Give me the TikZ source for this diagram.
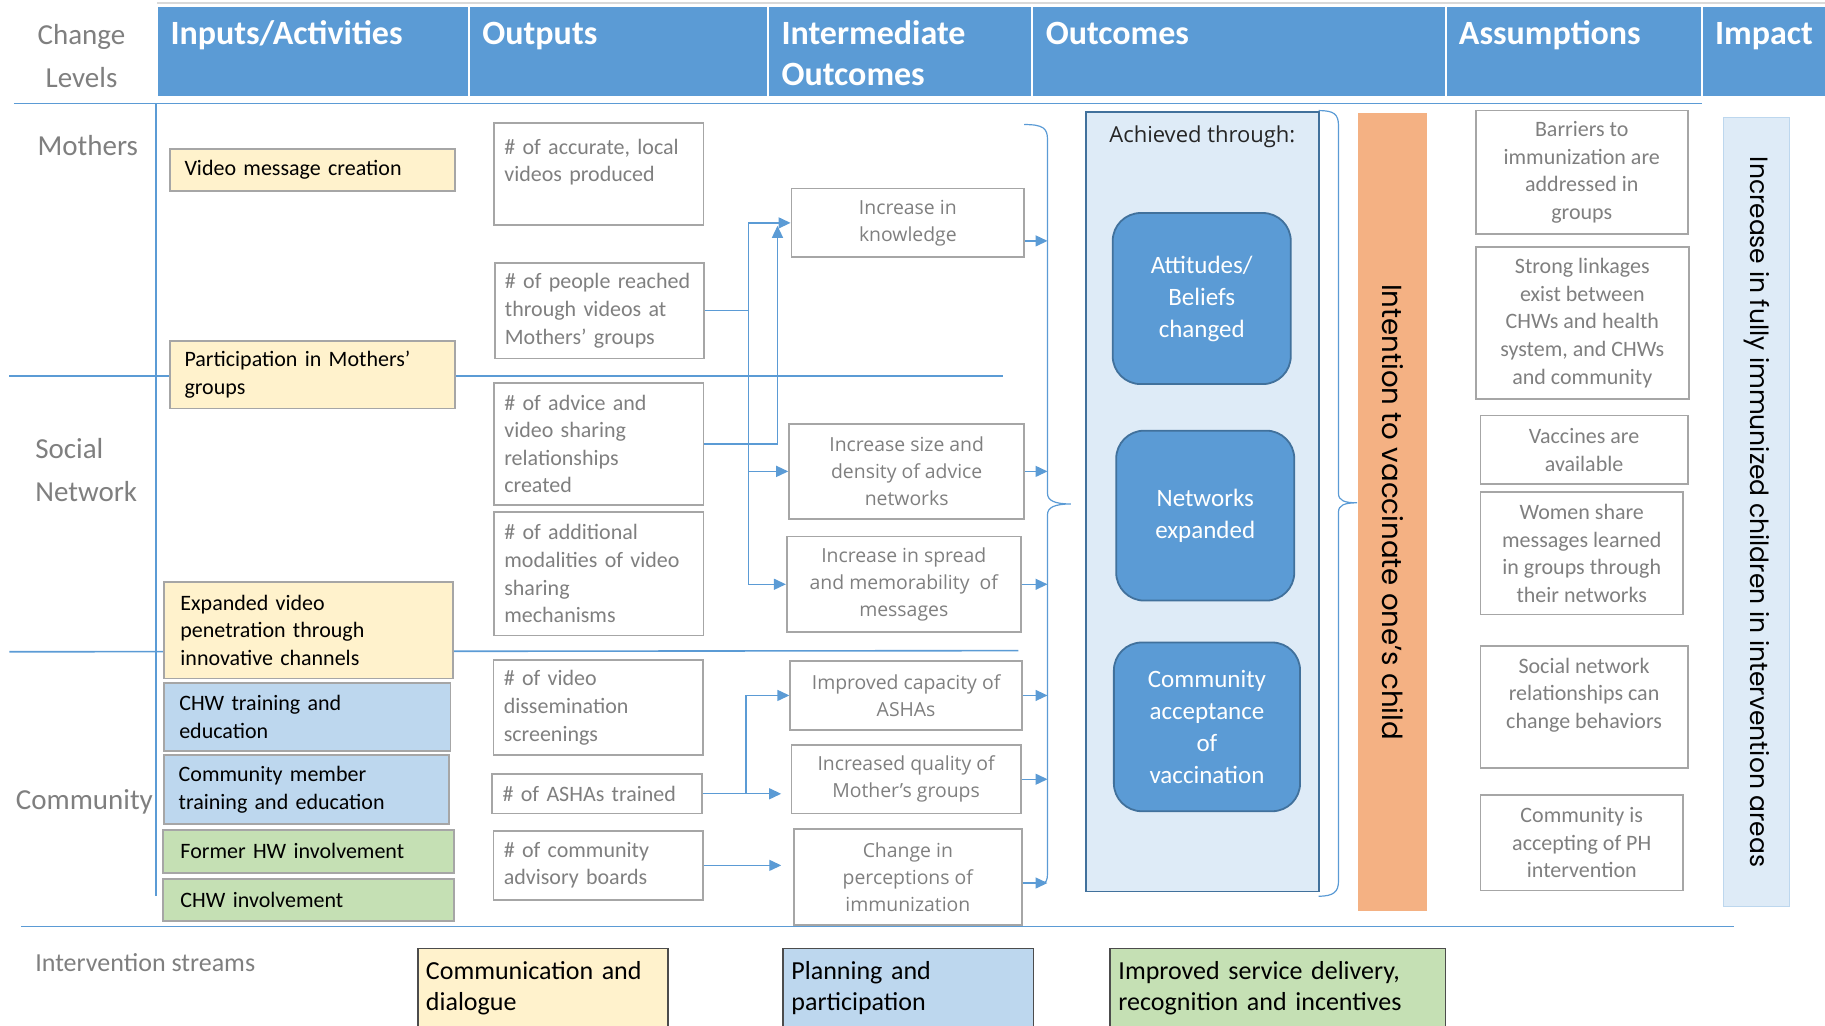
\documentclass[tikz,border=0pt]{standalone}
\usepackage{fontspec}
\setmainfont{Carlito}
\newfontfamily\segoe{Open Sans}
\newfontfamily\gothic{Poppins}
\usepackage{tikz}
\usetikzlibrary{arrows.meta,positioning}

\definecolor{hdrblue}{HTML}{5B9BD5}
\definecolor{lineblue}{HTML}{5B9BD5}
\definecolor{inyellow}{HTML}{FFF2CC}
\definecolor{inblue}{HTML}{BDD7EE}
\definecolor{ingreen}{HTML}{C5E0B4}
\definecolor{barorange}{HTML}{F4B183}
\definecolor{paleblue}{HTML}{DEEBF7}
\definecolor{boxgray}{HTML}{A6A6A6}
\definecolor{txtgray}{HTML}{7F7F7F}
\definecolor{darkblue}{HTML}{41719C}

\newcommand{\pxl}{0.582pt}
\newcommand{\hdrfont}{\fontsize{17}{20.5}\selectfont\bfseries}
\newcommand{\bodyfont}{\fontsize{11}{13.8}\selectfont}
\newcommand{\midfont}{\segoe\fontsize{9.7}{13.5}\selectfont}
\newcommand{\roundfont}{\fontsize{12.5}{16}\selectfont}
\newcommand{\lvlfont}{\fontsize{14.5}{21.5}\selectfont}
\newcommand{\streamfont}{\fontsize{13}{15.7}\selectfont}

\tikzset{
  sz/.style 2 args={minimum width=#1*\pxl, minimum height=#2*\pxl},
  hdr/.style={fill=hdrblue, draw=white, line width=1pt, minimum height=78*\pxl, inner sep=0pt},
  hdrtxt/.style={anchor=north west, inner xsep=7pt, inner ysep=7.5pt, text height=12pt, align=left, text=white, font=\hdrfont},
  lvl/.style={text=txtgray, font=\lvlfont, align=center},
  inbox/.style={draw=boxgray, line width=0.9pt, text width=128pt, inner xsep=7pt, align=left, font=\bodyfont},
  outbox/.style={draw=boxgray, line width=0.9pt, text width=94.5pt, inner xsep=5pt, align=left, text=txtgray, font=\bodyfont},
  midbox/.style={draw=boxgray, line width=0.9pt, align=center, text=txtgray, font=\midfont},
  asmbox/.style={draw=boxgray, line width=0.9pt, align=center, text=txtgray, font=\bodyfont},
  rbox/.style={fill=hdrblue, draw=darkblue, line width=0.9pt, rounded corners=14pt, align=center, text=white, font=\roundfont},
  vbar/.style={rotate=-90, inner sep=0pt},
  stream/.style={draw=black!70, line width=0.9pt, align=left, inner xsep=4pt, font=\streamfont},
  sep/.style={draw=lineblue, line width=0.8pt},
  conn/.style={->, lineblue, line width=0.7pt},
}

\begin{document}
\begin{tikzpicture}[x=\pxl, y=-\pxl, >={Triangle[length=6pt,width=5.5pt]}]
  \useasboundingbox (0,0) rectangle (1568,881);

  % header row
  \draw[gray!30, line width=1pt] (135,2.5) -- (1568,2.5);
  \node[hdr, minimum width=268*\pxl] (h1) at (269,44) {};
  \node[hdr, minimum width=257*\pxl] (h2) at (531.5,44) {};
  \node[hdr, minimum width=227*\pxl] (h3) at (773.5,44) {};
  \node[hdr, minimum width=355*\pxl] (h4) at (1064.5,44) {};
  \node[hdr, minimum width=220*\pxl] (h5) at (1352,44) {};
  \node[hdr, minimum width=113*\pxl] (h6) at (1518.5,44) {};
  \node[hdrtxt] (t1) at (h1.north west) {Inputs/Activities};
  \node[hdrtxt] (t2) at (h2.north west) {Outputs};
  \node[hdrtxt, text height={}] (t3) at (h3.north west) {Intermediate\\Outcomes};
  \node[hdrtxt] (t4) at (h4.north west) {Outcomes};
  \node[hdrtxt] (t5) at (h5.north west) {Assumptions};
  \node[hdrtxt] (t6) at (h6.north west) {Impact};

  % level lines
  \draw[sep] (12,89) -- (1462,89);
  \draw[sep] (134,89) -- (134,770);
  \draw[sep] (8,323) -- (862,323);
  \draw[sep] (8,560) -- (875,559);
  \draw[sep] (18,796) -- (1490,796);

  \node[lvl] (lv0) at (70,48.5) {Change\\Levels};
  \node[lvl] (lv1) at (75.5,125) {Mothers};
  \node[lvl, align=left, anchor=west, inner xsep=0pt] (lv2) at (30,403.5) {Social\\Network};
  \node[lvl] (lv3) at (72.5,689) {Community};
  \node[lvl, font=\fontsize{13}{16}\selectfont, anchor=west, inner xsep=0pt] (lv4) at (30,827) {Intervention streams};

  % inputs
  \node[inbox, fill=inyellow, sz={245}{36}] (i1) at (268.5,146) {Video message creation};
  \node[inbox, fill=inyellow, sz={245}{58}] (i2) at (268.5,322) {Participation in Mothers’\\groups};
  \node[inbox, fill=inyellow, sz={248}{83}] (i3) at (265,541.5) {Expanded video\\penetration through\\innovative channels};
  \node[inbox, fill=inblue, sz={246}{58}] (i4) at (264,616) {CHW training and\\education};
  \node[inbox, fill=inblue, sz={245}{59}] (i5) at (263.5,678.5) {Community member\\training and education};
  \node[inbox, fill=ingreen, sz={250}{37}] (i6) at (265,731.5) {Former HW involvement};
  \node[inbox, fill=ingreen, sz={250}{36}] (i7) at (265,773) {CHW involvement};

  % outputs
  \node[outbox, sz={180}{87}] (o1) at (514.5,149.5) {\# of accurate, local\\videos produced\\~};
  \node[outbox, sz={180}{82}] (o2) at (515,267) {\# of people reached\\through videos at\\Mothers’ groups};
  \node[outbox, sz={180}{105}] (o3) at (514.5,381.5) {\# of advice and\\video sharing\\relationships\\created};
  \node[outbox, sz={180}{106}] (o4) at (514.5,493) {\# of additional\\modalities of video\\sharing\\mechanisms};
  \node[outbox, sz={180}{82}] (o5) at (514,608) {\# of video\\dissemination\\screenings};
  \node[outbox, sz={180}{34}] (o6) at (513,682) {\# of ASHAs trained};
  \node[outbox, sz={180}{59}] (o7) at (514,743.5) {\# of community\\advisory boards};

  % intermediate outcomes
  \node[midbox, sz={200}{59}] (k1) at (780,191.5) {Increase in\\knowledge};
  \node[midbox, sz={202}{82}] (k2) at (779,405) {Increase size and\\density of advice\\networks};
  \node[midbox, sz={201}{82}] (k3) at (776.5,502) {Increase in spread\\and memorability\ \ of\\messages};
  \node[midbox, sz={199}{59}] (k4) at (778.5,597.5) {Improved capacity of\\ASHAs};
  \node[midbox, sz={197}{59}] (k5) at (778.5,669.5) {Increased quality of\\Mother’s groups};
  \node[midbox, sz={196}{83}] (k6) at (780,753.5) {Change in\\perceptions of\\immunization};

  % outcomes
  \node[fill=paleblue, draw=darkblue, line width=0.9pt, sz={200}{670}] (ach) at (1033,431) {};
  \node[font=\segoe\fontsize{11}{13}\selectfont, text=black!85] (acht) at (1033,117.5) {Achieved through:};
  \node[rbox, sz={153}{147}] (r1) at (1032.5,256.5) {Attitudes/\\Beliefs\\changed};
  \node[rbox, sz={153}{146}] (r2) at (1035.5,443) {Networks\\expanded};
  \node[rbox, sz={160}{145}] (r3) at (1037,624.5) {Community\\acceptance\\of\\vaccination};

  \node[vbar, fill=barorange, font=\gothic\fontsize{13.8}{16}\selectfont, sz={686}{59}] (int) at (1196.5,440) {Intention to vaccinate one’s child};

  % assumptions
  \node[asmbox, sz={182}{106}] (a1) at (1359,148) {Barriers to\\immunization are\\addressed in\\groups};
  \node[asmbox, sz={183}{131}] (a2) at (1359.5,277.5) {Strong linkages\\exist between\\CHWs and health\\system, and CHWs\\and community};
  \node[asmbox, sz={178}{59}] (a3) at (1361,386.5) {Vaccines are\\available};
  \node[asmbox, sz={174}{105}] (a4) at (1359,475.5) {Women share\\messages learned\\in groups through\\their networks};
  \node[asmbox, sz={178}{105}] (a5) at (1361,607.5) {Social network\\relationships can\\change behaviors\\~};
  \node[asmbox, sz={174}{82}] (a6) at (1359,724) {Community is\\accepting of PH\\intervention};

  \node[vbar, fill=paleblue, draw=inblue, font=\gothic\fontsize{12.5}{15}\selectfont, sz={678}{56}] (imp) at (1509,440) {Increase in fully immunized children in intervention areas};

  % intervention streams
  \node[stream, fill=inyellow, text width=117pt, sz={215}{68}] (s1) at (466.5,849) {Communication and\\dialogue};
  \node[stream, fill=inblue, text width=117pt, sz={215}{68}] (s2) at (780.5,849) {Planning and\\participation};
  \node[stream, fill=ingreen, text width=159.5pt, sz={288}{68}] (s3) at (1098,849) {Improved service delivery,\\recognition and incentives};

  % braces
  \coordinate (br) at (900,433);
  \draw[lineblue, line width=0.6pt] (880,107) .. controls (896,107) and (900,110) .. (900,120)
    -- (900,424) .. controls (900,430) and (906,433) .. (920,433)
    .. controls (906,433) and (900,436) .. (900,442) -- (900,750)
    .. controls (900,756) and (899,759) .. (895,759);
  \draw[lineblue, line width=0.6pt] (1133,95) .. controls (1146,95) and (1150,98) .. (1150,108)
    -- (1150,424) .. controls (1150,430) and (1155,432) .. (1166,432)
    .. controls (1155,432) and (1150,434) .. (1150,440) -- (1150,757)
    .. controls (1150,766) and (1146,770) .. (1133,770);

  % connectors
  \coordinate (j1) at (643,267);
  \coordinate (u1) at (668,194);
  \coordinate (j3) at (641,682);
  \coordinate (k1r) at ([yshift=-9pt]k1.east);
  \coordinate (k6r) at ([yshift=-3pt]k6.east);
  \draw[conn] (o2.east) -- (j1) |- (k1.west);
  \draw[conn] (j1) |- (k2.west);
  \draw[conn] (j1) |- (k3.west);
  \draw[conn] (o3.east) -| (u1);
  \draw[conn] (o6.east) -- (j3) |- (k4.west);
  \draw[conn, shorten >=4.7pt] (j3) -- (j3 -| k5.west);
  \draw[conn, shorten >=5.8pt] (o7.east) -- (o7.east -| k6.west);
  \path[conn]
    (k1r) edge (k1r -| br)
    (k2.east) edge (k2.east -| br)
    (k3.east) edge (k3.east -| br)
    (k4.east) edge (k4.east -| br)
    (k5.east) edge (k5.east -| br)
    (k6r) edge (k6r -| br)
    ;
\end{tikzpicture}
\end{document}
